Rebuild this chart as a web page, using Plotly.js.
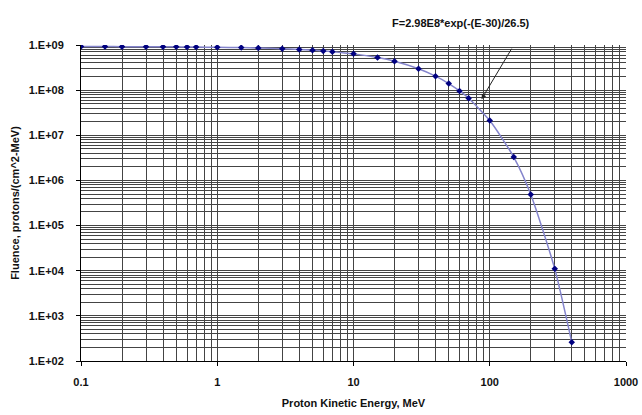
<!DOCTYPE html>
<html><head><meta charset="utf-8">
<script src="https://cdn.plot.ly/plotly-3.0.1.min.js"></script>
<style>html,body{margin:0;padding:0;background:#fff}#chart{width:642px;height:415px}</style>
</head><body><div id="chart"></div>
<script>
// Data
const energyMeV = [0.1, 0.15, 0.2, 0.3, 0.4, 0.5, 0.6, 0.7, 1, 1.5, 2, 3, 4, 5, 6, 7, 10, 15, 20, 30, 40, 50, 60, 70, 100, 150, 200, 300, 400];
const fluence = [9.24e8, 9.22e8, 9.20e8, 9.16e8, 9.13e8, 9.09e8, 9.06e8, 9.02e8, 8.92e8, 8.76e8, 8.59e8, 8.28e8, 7.97e8, 7.68e8, 7.39e8, 7.12e8, 6.36e8, 5.27e8, 4.37e8, 2.98e8, 2.04e8, 1.40e8, 9.6e7, 6.6e7, 2.12e7, 3.3e6, 4.9e5, 1.1e4, 2.6e2];
const xTickVals = [0.1, 1, 10, 100, 1000];
const xTickText = ['0.1', '1', '10', '100', '1000'];
const yTickVals = [1e2, 1e3, 1e4, 1e5, 1e6, 1e7, 1e8, 1e9];
const yTickText = ['1.E+02', '1.E+03', '1.E+04', '1.E+05', '1.E+06', '1.E+07', '1.E+08', '1.E+09'];
const formulaText = 'F=2.98E8*exp(-(E-30)/26.5)';
const arrowTarget = {x: 87, y: 6.3e7};

function minorVals(lo, hi) {
  const v = [];
  for (let d = lo; d < hi; d++) for (let m = 2; m <= 9; m++) v.push(m * Math.pow(10, d));
  return v;
}

const font = {family: '"Liberation Sans", Arial, sans-serif', size: 11, color: '#000'};
const gridCol = '#444';
const boldFont = {family: font.family, size: 11, color: '#111', weight: 'bold'};

const trace = {
  x: energyMeV, y: fluence, type: 'scatter', mode: 'lines+markers',
  line: {color: '#8484cc', width: 1.5, shape: 'spline', smoothing: 0.6},
  marker: {color: '#000080', size: 5, symbol: 'diamond'},
  hoverinfo: 'skip', showlegend: false
};

const layout = {
  width: 642, height: 415,
  margin: {l: 81, r: 16, t: 45, b: 54},
  paper_bgcolor: '#fff', plot_bgcolor: '#fff',
  font: font,
  xaxis: {
    type: 'log', range: [-1, 3],
    tickmode: 'array', tickvals: xTickVals, ticktext: xTickText,
    ticks: 'outside', ticklen: 4, tickcolor: '#000', ticklabelstandoff: 7,
    tickfont: boldFont,
    showgrid: true, gridcolor: gridCol, gridwidth: 1,
    minor: {tickmode: 'array', tickvals: minorVals(-1, 3), showgrid: true, gridcolor: gridCol, gridwidth: 1, ticks: ''},
    showline: true, linecolor: '#000', linewidth: 1, mirror: false, zeroline: false,
    title: {text: 'Proton Kinetic Energy, MeV', font: boldFont, standoff: 12}
  },
  yaxis: {
    type: 'log', range: [2, 9],
    tickmode: 'array', tickvals: yTickVals, ticktext: yTickText,
    ticks: 'outside', ticklen: 4, tickcolor: '#000', ticklabelstandoff: 10,
    tickfont: boldFont,
    showgrid: true, gridcolor: gridCol, gridwidth: 1,
    minor: {tickmode: 'array', tickvals: minorVals(2, 9), showgrid: true, gridcolor: gridCol, gridwidth: 1, ticks: ''},
    showline: true, linecolor: '#000', linewidth: 1, zeroline: false,
    title: {text: 'Fluence, protons/(cm^2-MeV)', font: boldFont, standoff: 6}
  },
  annotations: [
    {x: Math.log10(arrowTarget.x), y: Math.log10(arrowTarget.y), xref: 'x', yref: 'y',
     showarrow: true, arrowhead: 2, arrowsize: 1, arrowwidth: 1, arrowcolor: '#222',
     ax: 31, ay: -52, text: ''},
    {x: 0, y: 0, xref: 'paper', yref: 'paper', text: formulaText, showarrow: false,
     font: boldFont}
  ]
};
// position formula label in pixel terms converted to paper coords
layout.annotations[1].x = (532 - 81) / (642 - 81 - 16);
layout.annotations[1].y = 1 + (45 - 15) / (415 - 45 - 54);

Plotly.newPlot('chart', [trace], layout, {displayModeBar: false, staticPlot: true});
</script></body></html>
